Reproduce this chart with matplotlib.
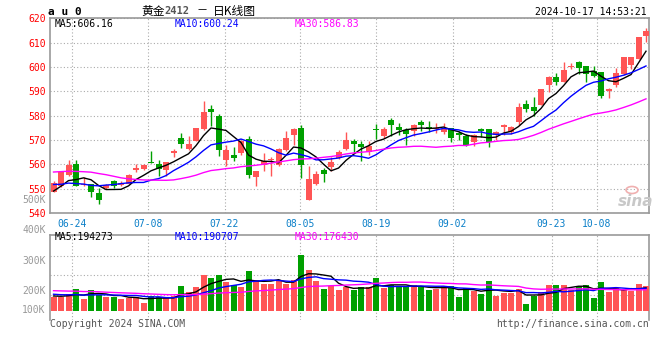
import matplotlib
matplotlib.use("Agg")
import matplotlib.pyplot as plt
from matplotlib.patches import Ellipse
import numpy as np
import pandas as pd

# closes / volumes (K) of the 29 sessions before the window, only used to seed the MAs
prior_close = [552, 555, 553, 556, 554, 562, 566, 570, 572, 568, 566, 566,
               562, 560, 562, 561, 552, 550, 551, 550, 556, 555, 553, 554, 554,
               547.0, 548.3, 548.9, 548.5]
prior_vol = [170, 190, 210, 185, 175, 200, 220, 195, 180, 170, 185, 175, 190, 200,
             180, 165, 175, 185, 170, 180, 160, 150, 165, 145, 155, 130, 120, 135, 121]

# daily candles, au2412, 80 sessions
opens = [548.5, 551.0, 555.8, 560.3, 551.6, 552.1, 548.3, 550.2, 553.2, 551.4,
         552.1, 557.7, 558.2, 561.0, 560.3, 557.6, 564.7, 570.9, 566.3, 569.7,
         574.5, 582.6, 580.0, 561.9, 564.0, 564.7, 570.5, 554.7, 559.6, 561.8,
         559.6, 566.0, 572.2, 574.8, 545.5, 552.1, 557.8, 558.7, 562.6, 566.4,
         569.7, 568.5, 564.9, 574.4, 571.5, 578.3, 575.3, 574.2, 573.5, 577.5,
         575.4, 574.4, 573.1, 574.8, 572.9, 571.6, 569.0, 574.4, 574.6, 572.0,
         575.2, 573.4, 577.2, 584.7, 583.5, 584.5, 592.4, 595.7, 594.0, 600.0,
         602.2, 600.2, 598.4, 598.1, 590.3, 592.4, 597.2, 600.9, 603.3, 612.7]
highs = [553.0, 557.4, 561.9, 561.9, 554.7, 552.1, 550.3, 552.0, 553.7, 553.0,
         556.1, 560.2, 560.1, 565.6, 561.9, 561.1, 566.4, 572.9, 571.5, 575.0,
         585.9, 584.5, 580.8, 568.1, 567.0, 569.9, 571.8, 557.4, 564.7, 562.9,
         566.7, 573.8, 574.9, 576.0, 559.2, 557.2, 558.5, 562.9, 566.0, 573.1,
         570.5, 569.4, 569.4, 576.7, 575.3, 579.1, 577.0, 574.9, 576.7, 578.3,
         577.9, 576.9, 576.9, 574.8, 573.8, 572.5, 572.5, 574.9, 574.6, 573.8,
         576.5, 575.7, 585.4, 586.3, 587.6, 591.0, 596.4, 597.4, 602.2, 601.8,
         602.5, 600.5, 600.2, 598.1, 591.3, 599.5, 604.3, 603.9, 612.3, 615.9]
lows = [548.5, 550.8, 555.4, 550.9, 551.0, 546.5, 543.8, 549.9, 550.3, 550.9,
        552.1, 557.0, 557.8, 560.4, 555.1, 555.4, 563.0, 566.7, 566.0, 569.7,
        574.2, 575.6, 563.6, 559.5, 561.2, 564.0, 554.4, 551.0, 557.2, 555.1,
        559.2, 565.3, 568.1, 554.4, 545.3, 551.4, 552.6, 557.4, 562.2, 566.0,
        564.9, 561.2, 564.0, 570.4, 570.8, 571.5, 572.2, 568.1, 571.5, 573.5,
        573.3, 572.9, 572.5, 569.0, 569.9, 567.4, 567.4, 571.2, 567.0, 569.9,
        572.2, 572.5, 576.0, 581.5, 579.7, 584.5, 589.9, 592.6, 594.0, 599.1,
        597.0, 594.0, 595.7, 587.2, 587.2, 591.6, 596.8, 599.1, 603.3, 610.4]
closes = [552.4, 557.0, 559.8, 550.9, 552.1, 548.5, 545.3, 551.4, 551.0, 552.4,
          555.6, 558.4, 559.9, 560.4, 558.2, 561.1, 565.6, 568.2, 568.5, 575.0,
          581.7, 581.3, 565.8, 565.8, 562.5, 569.4, 555.5, 557.4, 561.5, 562.2,
          566.4, 571.0, 574.4, 559.6, 554.1, 556.1, 556.1, 560.8, 565.2, 569.9,
          568.4, 567.0, 567.7, 574.1, 574.5, 576.0, 574.2, 572.3, 576.1, 576.0,
          575.1, 575.0, 574.4, 570.7, 571.9, 568.1, 571.9, 573.7, 569.0, 573.3,
          576.3, 575.5, 583.5, 582.8, 582.0, 591.0, 595.7, 594.0, 598.8, 600.2,
          599.5, 597.0, 596.1, 588.2, 591.0, 597.4, 603.9, 603.9, 612.3, 614.9]
volumes = [119, 119, 142, 184, 99, 176, 133, 119, 119, 99,
           105, 119, 68, 125, 119, 105, 125, 210, 159, 201,
           303, 278, 303, 247, 218, 201, 337, 261, 230, 230,
           261, 230, 261, 473, 346, 252, 184, 210, 176, 204,
           176, 199, 204, 281, 196, 218, 199, 204, 218, 199,
           176, 182, 210, 210, 119, 190, 167, 142, 252, 125,
           153, 148, 184, 57, 125, 159, 218, 218, 218, 176,
           210, 218, 108, 244, 159, 193, 176, 167, 227, 210]

date_labels = ['06-24', '07-08', '07-22', '08-05', '08-19', '09-02', '09-23', '10-08']
date_pos = [2.5, 12.6, 22.8, 32.9, 43.0, 53.2, 66.4, 72.4]
price_ticks = [540, 550, 560, 570, 580, 590, 600, 610, 620]

RED = '#ff5555'
GREEN = '#00a000'
GRID = '#aaaaaa'
FRAME = '#999999'
MONO = 'DejaVu Sans Mono'
CJK = ['Noto Sans CJK SC', 'DejaVu Sans']
ma_colors = {5: 'black', 10: '#0000ff', 30: '#ff00ff'}

fig = plt.figure(figsize=(6.6, 3.6), dpi=100)
W, H = 660.0, 360.0
ax = fig.add_axes([50 / W, 1 - 213 / H, 599 / W, 194.7 / H])
axv = fig.add_axes([50 / W, 1 - 319.5 / H, 599 / W, 84.8 / H])

x = np.arange(len(closes))
o = np.array(opens)
c = np.array(closes)
up = c > o
cols = np.where(up, RED, GREEN)

# candles
ax.vlines(x, lows, highs, colors=cols, lw=1, zorder=3)
ax.bar(x, np.maximum(np.abs(c - o), 0.35), bottom=np.minimum(o, c), width=0.8,
       color=cols, zorder=4, linewidth=0)

k = len(prior_close)
allc = pd.Series(prior_close + closes)
for w in (5, 10, 30):
    ax.plot(x, allc.rolling(w).mean().values[k:], color=ma_colors[w], lw=1, zorder=5)

ax.set_xlim(-0.47, 79.4)
ax.set_ylim(540, 620)
ax.set_yticks(price_ticks)
ax.set_yticklabels([str(p) for p in price_ticks], color='#ff0000', fontsize=7, family=MONO)
ax.set_xticks(date_pos)
ax.set_xticklabels(date_labels, color='#0a7fc8', fontsize=7, family=MONO)
ax.tick_params(length=0, pad=3)
ax.tick_params(axis='x', pad=4)
ax.grid(True, ls=(0, (1, 2)), color=GRID, lw=0.8)
ax.set_axisbelow(True)
for s in ax.spines.values():
    s.set_color(FRAME)
    s.set_linewidth(1.2)

# volume
axv.bar(x, volumes, width=0.8, color=cols, linewidth=0, zorder=3)
allv = pd.Series(prior_vol + volumes)
for w in (5, 10, 30):
    axv.plot(x, allv.rolling(w).mean().values[k:], color=ma_colors[w], lw=1, zorder=5)
axv.set_xlim(-0.47, 79.4)
axv.set_ylim(-74.8, 646)
axv.set_xticks(date_pos)
axv.set_xticklabels([])
axv.set_yticks([131, 301, 467])
axv.set_yticklabels([])
axv.tick_params(length=0)
axv.grid(True, ls=(0, (1, 2)), color=GRID, lw=0.8)
axv.set_axisbelow(True)
for s in axv.spines.values():
    s.set_color(FRAME)
    s.set_linewidth(1.2)
axv.spines['bottom'].set_visible(False)

for lab, yf in [('500K', 1.409), ('400K', 1.061), ('300K', 0.693), ('200K', 0.340), ('100K', 0.112)]:
    axv.text(-0.007, yf, lab, transform=axv.transAxes, ha='right', va='center',
             color=FRAME, fontsize=7, family=MONO, clip_on=False)

# header texts
def ftext(px, py, s, **kw):
    fig.text(px / W, 1 - py / H, s, va='center', **kw)

ftext(48, 12, 'a u 0', fontsize=8, family=MONO, weight='bold')
ftext(141, 11, '黄金', fontsize=8.5, family=CJK)
ftext(164, 11, '2412', fontsize=7.5, family=MONO, weight='bold', color='#555555')
ftext(196, 11, '－', fontsize=8, family=CJK)
ftext(213, 11, '日K线图', fontsize=8.5, family=CJK)
ftext(535, 12, '2024-10-17 14:53:21', fontsize=7, family=MONO)

ftext(55, 23.7, 'MA5:606.16', fontsize=7, family=MONO, color='black')
ftext(175, 23.7, 'MA10:600.24', fontsize=7, family=MONO, color='#0000ff')
ftext(295, 23.7, 'MA30:586.83', fontsize=7, family=MONO, color='#ff00ff')

ftext(55, 237.5, 'MA5:194273', fontsize=7, family=MONO, color='black')
ftext(175, 237.5, 'MA10:190707', fontsize=7, family=MONO, color='#0000ff')
ftext(295, 237.5, 'MA30:176430', fontsize=7, family=MONO, color='#ff00ff')

ftext(50, 324, 'Copyright 2024 SINA.COM', fontsize=7, family=MONO, color='#555555')
fig.text(649 / W, 1 - 324 / H, 'http://finance.sina.com.cn', va='center', ha='right',
         fontsize=7, family=MONO, color='#555555')

# sina watermark
ftext(618, 201, 'sina', fontsize=11, family='DejaVu Sans', style='italic', weight='bold',
      color='#c8c8c8')
fig.add_artist(Ellipse((632 / W, 1 - 190 / H), 12 / W, 7 / H, transform=fig.transFigure,
                       fill=False, ec='#f0b0b0', lw=1.2))

fig.savefig('out.png', dpi=100)
